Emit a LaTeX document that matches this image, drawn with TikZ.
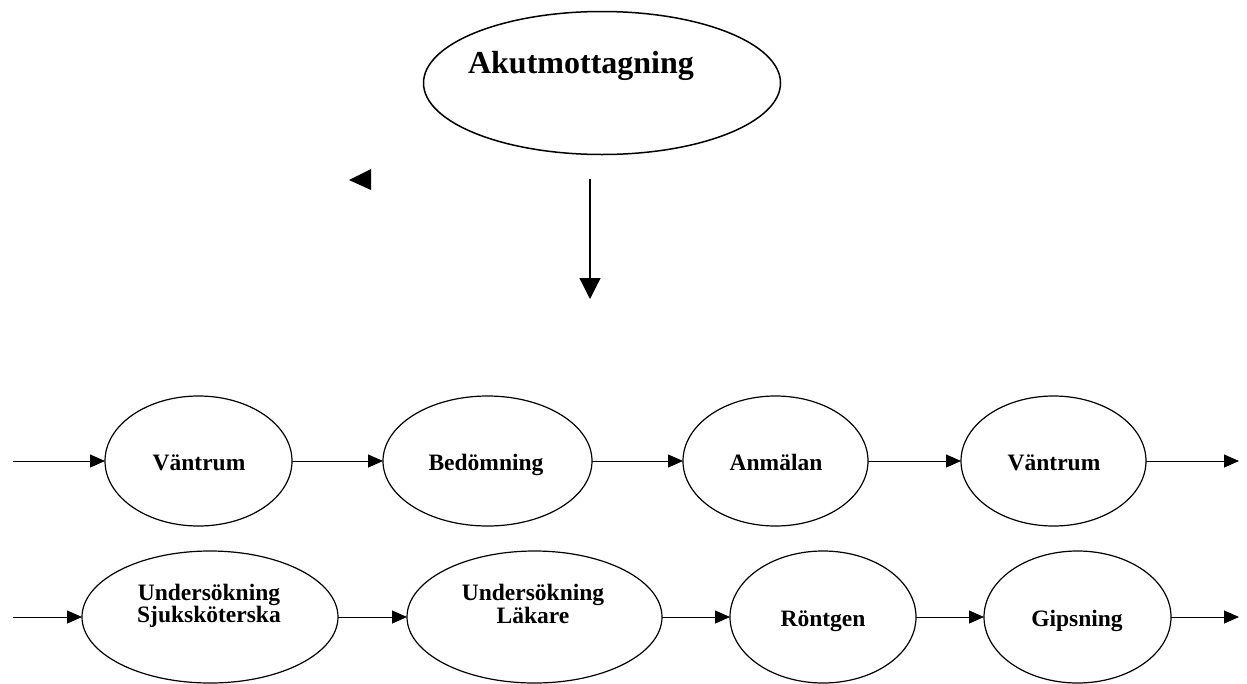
\documentclass[tikz,border=0pt]{standalone}
\usepackage{fontspec}
\setmainfont{Liberation Serif}
\usetikzlibrary{shapes.geometric,arrows.meta}
\tikzset{
  stage/.style={ellipse, draw, line width=1.2pt, inner sep=0pt, outer sep=0pt},
  lbl/.style={font=\fontsize{23.5}{22.5}\selectfont\bfseries, align=center, inner sep=0pt},
  flow/.style={line width=1pt, -{Triangle[length=15pt,width=13pt]}}
}
\begin{document}
\begin{tikzpicture}[x=1pt,y=-1pt]
\useasboundingbox (0,0) rectangle (1247,683);
% top
\node[stage, line width=1.5pt, minimum width=357pt, minimum height=143pt] (akut) at (602,83) {};
\node[font=\fontsize{32}{36}\selectfont\bfseries, inner sep=0pt, anchor=base] (akutlbl) at (581,73) {Akutmottagning};
\coordinate (dstart) at (590,179);
\coordinate (dend) at (590,299);
\draw[line width=1.2pt, -{Triangle[length=21pt,width=21pt]}] (dstart) -- (dend);
\fill (349,180) -- (371,169) -- (371,190) -- cycle;
% row 1
\coordinate (in1) at (13,461);
\node[stage, minimum width=187pt, minimum height=130pt] (v1) at (198.5,461) {};
\node[lbl, anchor=base] (v1l) at (199,470) {Väntrum};
\node[stage, minimum width=209pt, minimum height=130pt] (bed) at (487.5,461) {};
\node[lbl, anchor=base] (bedl) at (486,470) {Bedömning};
\node[stage, minimum width=185pt, minimum height=130pt] (anm) at (775.5,461) {};
\node[lbl, anchor=base] (anml) at (776,470) {Anmälan};
\node[stage, minimum width=185pt, minimum height=130pt] (v2) at (1053.5,461) {};
\node[lbl, anchor=base] (v2l) at (1054,470) {Väntrum};
\coordinate (out1) at (1239,461);
\draw[flow] (in1) -- (v1.west);
\draw[flow] (v1.east) -- (bed.west);
\draw[flow] (bed.east) -- (anm.west);
\draw[flow] (anm.east) -- (v2.west);
\draw[flow] (v2.east) -- (out1);
% row 2
\coordinate (in2) at (13,617);
\node[stage, minimum width=256pt, minimum height=132pt] (us) at (210,617) {};
\node[lbl] (usl) at (209,606) {Undersökning\\Sjuksköterska};
\node[stage, minimum width=255pt, minimum height=132pt] (ul) at (534.5,617) {};
\node[lbl] (ull) at (533,604) {Undersökning\\Läkare};
\node[stage, minimum width=186pt, minimum height=132pt] (ront) at (823,617) {};
\node[lbl, anchor=base] (rontl) at (823,626) {Röntgen};
\node[stage, minimum width=187pt, minimum height=132pt] (gips) at (1077.5,617) {};
\node[lbl, anchor=base] (gipsl) at (1077,626) {Gipsning};
\coordinate (out2) at (1239,617);
\draw[flow] (in2) -- (us.west);
\draw[flow] (us.east) -- (ul.west);
\draw[flow] (ul.east) -- (ront.west);
\draw[flow] (ront.east) -- (gips.west);
\draw[flow] (gips.east) -- (out2);
\end{tikzpicture}
\end{document}
